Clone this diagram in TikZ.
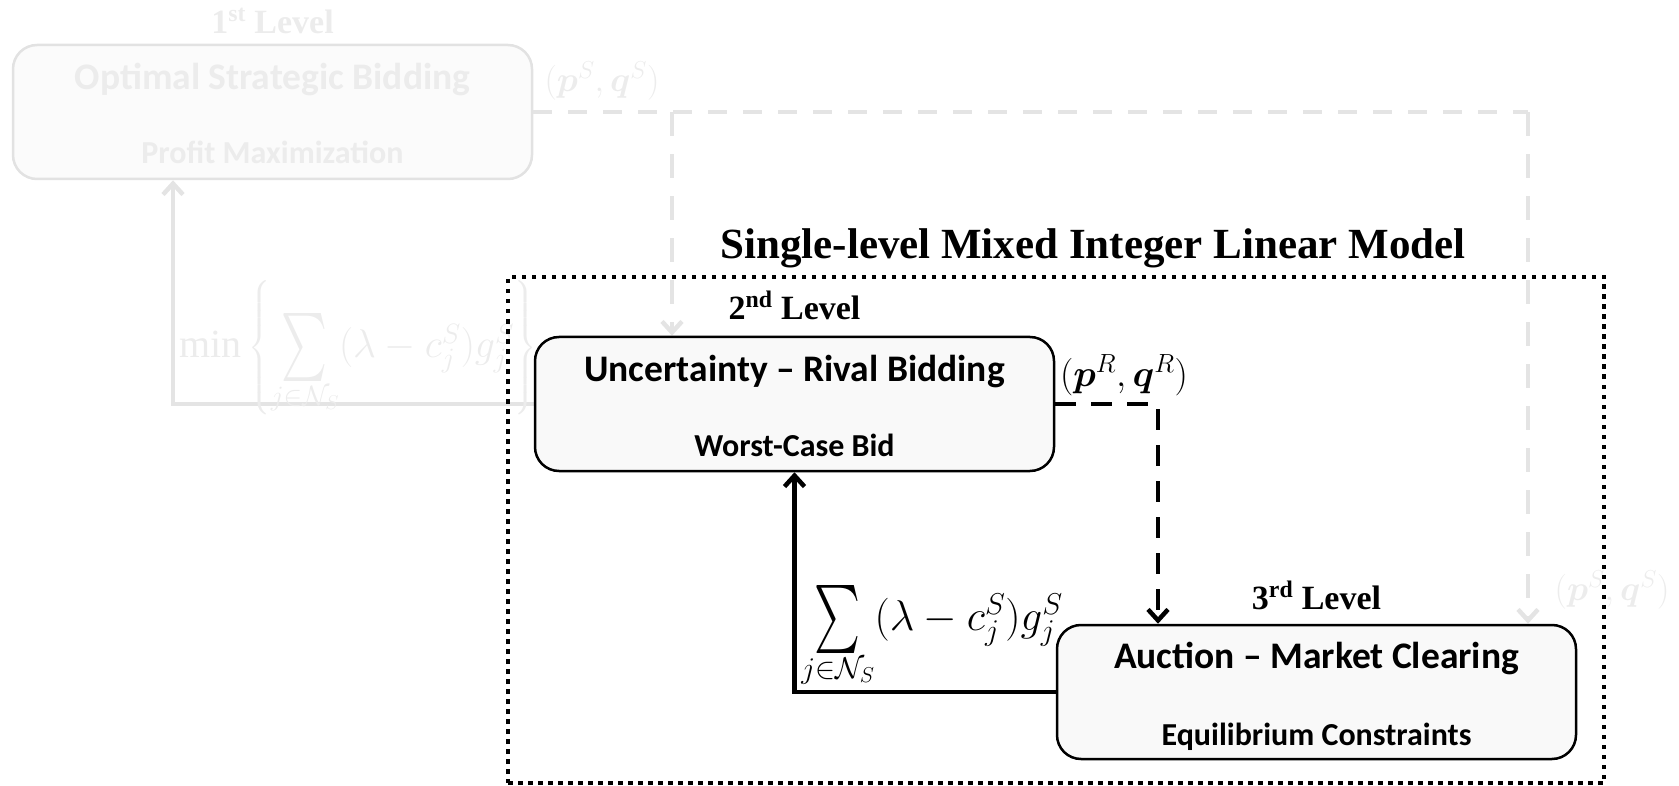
\RequirePackage{fix-cm}
\documentclass[tikz,border=0pt]{standalone}
\usepackage{graphicx}
\usepackage{amsmath}
\usepackage{bm}
\usepackage{fontspec}
\setmainfont{Liberation Serif}
\newfontfamily\carlito{Carlito}
\usetikzlibrary{arrows.meta,calc}

% a tall, narrow summation sign of fixed size
\newcommand{\tallsum}{\mathop{\vcenter{\hbox{\resizebox*{46pt}{68pt}{$\textstyle\sum$}}}}\limits}

\definecolor{lineGray}{RGB}{228,228,228}
\definecolor{textGray}{RGB}{236,236,236}
\definecolor{boxFill}{RGB}{249,249,249}
\definecolor{ghostFill}{RGB}{251,251,251}
\definecolor{ghostEdge}{RGB}{226,226,226}

\tikzset{
  levelbox/.style={draw=black, line width=2.5, fill=boxFill, rounded corners=24,
    minimum width=519, minimum height=134, inner sep=0},
  ghostbox/.style={levelbox, draw=ghostEdge, fill=ghostFill},
  txt/.style={inner sep=0, anchor=base},
  headtxt/.style={txt, font=\carlito\bfseries\fontsize{37.5}{42}\selectfont},
  subtxt/.style={txt, font=\carlito\bfseries\fontsize{32}{36}\selectfont},
  lvltxt/.style={txt, font=\bfseries\fontsize{34}{38}\selectfont},
  mlabel/.style={inner sep=0, font=\fontsize{35}{40}\selectfont},
  barb/.style={-{Straight Barb[length=11,width=20]}},
  gline/.style={draw=lineGray, line width=4.5},
  gdashH/.style={gline, dash pattern=on 19 off 16},
  gdashV/.style={gline, dash pattern=on 24 off 18},
  bline/.style={draw=black, line width=4.5},
  bdash/.style={bline, dash pattern=on 21 off 15},
  dotframe/.style={draw=black, line width=4.5, dash pattern=on 4.5 off 5.5,
    minimum width=1096, minimum height=506, inner sep=0},
}

\begin{document}
\begin{tikzpicture}[x=1pt,y=-1pt]
\useasboundingbox (0,0) rectangle (1679,786);

% ---------- upper level (faded) ----------
\node[ghostbox] (B1) at (272.5,112) {};
\node[lvltxt, text=textGray] (L1) at ($(B1.north)+(0,-10)$) {1\textsuperscript{st} Level};
\node[headtxt, text=textGray] (B1a) at ($(B1.north)+(0,46)$) {Optimal Strategic Bidding};
\node[subtxt, text=textGray] (B1b) at ($(B1.south)+(0,-17)$) {Profit Maximization};

% positions of the box nodes used by the connectors
\node[levelbox, draw=none, fill=none] (B2) at (794.5,404) {};
\node[levelbox, draw=none, fill=none] (B3) at (1316.5,692) {};

% faded connectors
\coordinate (gTopR) at (1528,112);
\coordinate (gTopM) at (672,112);
\coordinate (gLeft) at (173,404);
\draw[gdashH] (B1.east) -- (gTopR);
\draw[gdashV, barb] (gTopR) -- (gTopR |- B3.north);
\draw[gdashV, barb] (gTopM) -- (gTopM |- B2.north);
\draw[gline, barb] (B2.west) -- (gLeft) -- (gLeft |- B1.south);

\node[mlabel, text=textGray] (pqS1) at (602,81) {$(\bm{p}^S,\bm{q}^S)$};
\node[mlabel, text=textGray] (pqS2) at (1612,590) {$(\bm{p}^S,\bm{q}^S)$};
\node[mlabel, text=textGray, font=\fontsize{40}{46}\selectfont] (minGain) at (358,348)
  {$\min\left\{\tallsum_{j\in\mathcal{N}_S}(\lambda-c_j^S)g_j^S\right\}$};

% ---------- single-level frame ----------
\node[dotframe] (SL) at (1056,530) {};
\node[txt, font=\bfseries\fontsize{43}{48}\selectfont] (title) at (1093,259)
  {Single-level Mixed Integer Linear Model};

% black connectors
\coordinate (bTurn) at (1158,404);
\draw[bdash, barb] (B2.east) -- (bTurn) -- (bTurn |- B3.north);
\draw[bline, barb] (B3.west) -| (B2.south);

% ---------- lower levels ----------
\node[levelbox] (B2box) at (B2) {};
\node[lvltxt] (L2) at ($(B2.north)+(0,-16)$) {2\textsuperscript{nd} Level};
\node[headtxt] (B2a) at ($(B2.north)+(0,46)$) {Uncertainty \textendash{} Rival Bidding};
\node[subtxt] (B2b) at ($(B2.south)+(0,-16)$) {Worst-Case Bid};

\node[levelbox] (B3box) at (B3) {};
\node[lvltxt] (L3) at ($(B3.north)+(0,-14)$) {3\textsuperscript{rd} Level};
\node[headtxt] (B3a) at ($(B3.north)+(0,45)$) {Auction \textendash{} Market Clearing};
\node[subtxt] (B3b) at ($(B3.south)+(0,-15)$) {Equilibrium Constraints};

\node[mlabel, font=\fontsize{37.5}{42}\selectfont] (pqR) at (1124,375) {$(\bm{p}^R,\bm{q}^R)$};
\node[mlabel, font=\fontsize{43}{48}\selectfont] (gain) at (932,636)
  {$\tallsum_{j\in\mathcal{N}_S}(\lambda-c_j^S)g_j^S$};
\end{tikzpicture}
\end{document}
